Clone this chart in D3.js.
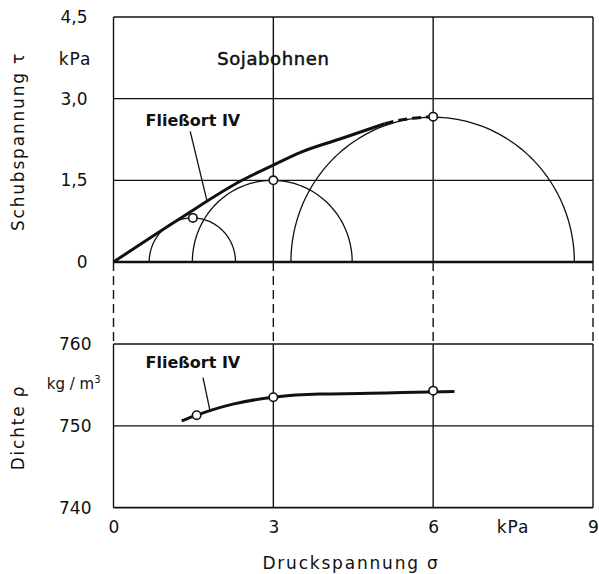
<!DOCTYPE html>
<html>
<head>
<meta charset="utf-8">
<script src="https://cdn.jsdelivr.net/npm/d3@7"></script>
<style>
  body { margin: 0; background: #fff; }
  svg text { font-family: "DejaVu Sans", sans-serif; fill: #111; }
</style>
</head>
<body>
<svg id="chart" width="599" height="574"></svg>
<script>
// Achsen / ticks
const sigmaTicks = [0, 3, 6, 9];
const tauTicks = [0, 1.5, 3.0, 4.5];
const rhoTicks = [740, 750, 760];

// Mohrsche Spannungskreise
const circleCenter = [1.48, 2.98, 5.99];
const circleRadius = [0.81, 1.5, 2.66];
const circlePtSigma = [1.49, 3.0, 6.0];
const circlePtTau = [0.81, 1.5, 2.67];

// Fließort IV (oben)
const locusSigma = [0, 1.25, 2.43, 3.0, 3.5, 4.25, 5.09];
const locusTau = [0, 0.80, 1.51, 1.78, 2.01, 2.26, 2.54];
const locusDashSigma = [5.09, 5.4, 6.0];
const locusDashTau = [2.54, 2.61, 2.67];

// Dichte (unten)
const densSigma = [1.28, 1.56, 2.24, 3.0, 3.87, 4.81, 5.43, 6.4];
const densRho = [750.6, 751.3, 752.65, 753.5, 753.9, 753.97, 754.08, 754.2];
const densPtSigma = [1.56, 3.0, 6.0];
const densPtRho = [751.3, 753.5, 754.3];

const svg = d3.select('#chart');

const x = d3.scaleLinear().domain([0, 9]).range([113.5, 593]);
const yTop = d3.scaleLinear().domain([0, 4.5]).range([262, 17]);
const yBot = d3.scaleLinear().domain([740, 760]).range([507.7, 344]);

const comma = d => d === 0 ? '0' : d3.format('.1f')(d).replace('.', ',');

// --- Gitter oben ---
const gTop = svg.append('g');
gTop.selectAll('line.h').data(tauTicks.filter(d => d > 0)).join('line')
    .attr('x1', x(0)).attr('x2', x(9))
    .attr('y1', d => yTop(d)).attr('y2', d => yTop(d))
    .attr('stroke', '#111').attr('stroke-width', 1.4);
gTop.selectAll('line.v').data(sigmaTicks).join('line')
    .attr('x1', d => x(d)).attr('x2', d => x(d))
    .attr('y1', yTop(4.5)).attr('y2', yTop(0))
    .attr('stroke', '#111').attr('stroke-width', 1.4);
gTop.append('line')
    .attr('x1', x(0)).attr('x2', x(9)).attr('y1', yTop(0)).attr('y2', yTop(0))
    .attr('stroke', '#111').attr('stroke-width', 2.4);

// --- Verbindung gestrichelt ---
svg.append('g').selectAll('line').data(sigmaTicks).join('line')
    .attr('x1', d => x(d)).attr('x2', d => x(d))
    .attr('y1', yTop(0)).attr('y2', yBot(760))
    .attr('stroke', '#111').attr('stroke-width', 1.4)
    .attr('stroke-dasharray', '9 5');

// --- Gitter unten ---
const gBot = svg.append('g');
gBot.selectAll('line.h').data(rhoTicks.filter(d => d > 740)).join('line')
    .attr('x1', x(0)).attr('x2', x(9))
    .attr('y1', d => yBot(d)).attr('y2', d => yBot(d))
    .attr('stroke', '#111').attr('stroke-width', 1.4);
gBot.selectAll('line.v').data(sigmaTicks).join('line')
    .attr('x1', d => x(d)).attr('x2', d => x(d))
    .attr('y1', yBot(760)).attr('y2', yBot(740))
    .attr('stroke', '#111').attr('stroke-width', 1.4);
gBot.append('line')
    .attr('x1', x(0)).attr('x2', x(9)).attr('y1', yBot(740)).attr('y2', yBot(740))
    .attr('stroke', '#111').attr('stroke-width', 1.8);

// --- Mohr-Kreise ---
const angles = d3.range(0, 181, 2).map(a => a * Math.PI / 180);
const circleLine = d3.line().x(p => x(p[0])).y(p => yTop(p[1]));
svg.append('g').selectAll('path').data(circleCenter).join('path')
    .attr('d', (c, i) => circleLine(angles.map(a => [c + circleRadius[i] * Math.cos(a), circleRadius[i] * Math.sin(a)])))
    .attr('fill', 'none').attr('stroke', '#111').attr('stroke-width', 1.3);

// --- Fließort ---
const locusLine = d3.line().x(d => x(d[0])).y(d => yTop(d[1])).curve(d3.curveMonotoneX);
svg.append('path')
    .attr('d', locusLine(locusSigma.map((s, i) => [s, locusTau[i]])))
    .attr('fill', 'none').attr('stroke', '#111').attr('stroke-width', 3);
svg.append('path')
    .attr('d', locusLine(locusDashSigma.map((s, i) => [s, locusDashTau[i]])))
    .attr('fill', 'none').attr('stroke', '#111').attr('stroke-width', 3)
    .attr('stroke-dasharray', '9 5');

svg.append('g').selectAll('circle').data(circlePtSigma).join('circle')
    .attr('cx', d => x(d)).attr('cy', (d, i) => yTop(circlePtTau[i])).attr('r', 4.2)
    .attr('fill', '#fff').attr('stroke', '#111').attr('stroke-width', 1.6);

// --- Dichte ---
const densLine = d3.line().x(d => x(d[0])).y(d => yBot(d[1])).curve(d3.curveMonotoneX);
svg.append('path')
    .attr('d', densLine(densSigma.map((s, i) => [s, densRho[i]])))
    .attr('fill', 'none').attr('stroke', '#111').attr('stroke-width', 3);
svg.append('g').selectAll('circle').data(densPtSigma).join('circle')
    .attr('cx', d => x(d)).attr('cy', (d, i) => yBot(densPtRho[i])).attr('r', 4.2)
    .attr('fill', '#fff').attr('stroke', '#111').attr('stroke-width', 1.6);

// --- Achsenbeschriftung ---
const axTop = svg.append('g').attr('transform', `translate(${x(0) - 26},0)`)
    .call(d3.axisLeft(yTop).tickValues(tauTicks).tickSize(0).tickPadding(0).tickFormat(comma));
const axBot = svg.append('g').attr('transform', `translate(${x(0) - 22},0)`)
    .call(d3.axisLeft(yBot).tickValues(rhoTicks).tickSize(0).tickPadding(0));
const axX = svg.append('g').attr('transform', `translate(0,${yBot(740) + 13})`)
    .call(d3.axisBottom(x).tickValues(sigmaTicks).tickSize(0).tickPadding(0));
[axTop, axBot, axX].forEach(a => {
    a.select('.domain').remove();
    a.selectAll('text').style('font-family', '"DejaVu Sans", sans-serif')
        .style('font-size', '17px').attr('fill', '#111');
});

// Einheiten
svg.append('text').attr('x', x(0) - 22).attr('y', yTop(3.73)).attr('dy', '0.35em')
    .attr('text-anchor', 'end').style('font-size', '17px').style('letter-spacing', '1px').text('kPa');
const kg = svg.append('text').attr('x', x(0) - 13).attr('y', yBot(755.2)).attr('dy', '0.35em')
    .attr('text-anchor', 'end').style('font-size', '15px');
kg.append('tspan').text('kg / m');
kg.append('tspan').attr('dy', '-0.6em').style('font-size', '10px').text('3');
svg.append('text').attr('x', x(7.5)).attr('y', yBot(740) + 13).attr('dy', '0.71em')
    .attr('text-anchor', 'middle').style('font-size', '17px').style('letter-spacing', '1px').text('kPa');

// Achsentitel
svg.append('text').attr('transform', `translate(24,${(yTop(4.5) + yTop(0)) / 2 + 2}) rotate(-90)`)
    .attr('text-anchor', 'middle').style('font-size', '17px').style('letter-spacing', '1.8px')
    .text('Schubspannung τ');
svg.append('text').attr('transform', `translate(24,${yBot(749.8)}) rotate(-90)`)
    .attr('text-anchor', 'middle').style('font-size', '17px').style('letter-spacing', '1.8px')
    .text('Dichte ρ');
svg.append('text').attr('x', 351).attr('y', 569)
    .attr('text-anchor', 'middle').style('font-size', '17px').style('letter-spacing', '1.8px')
    .text('Druckspannung σ');

// Titel / Beschriftungen
svg.append('text').attr('x', x(3)).attr('y', yTop(3.62))
    .attr('text-anchor', 'middle').style('font-size', '18px').style('letter-spacing', '0.6px')
    .attr('stroke', '#111').attr('stroke-width', 0.5).text('Sojabohnen');

svg.append('text').attr('x', x(1.49)).attr('y', yTop(2.49))
    .attr('text-anchor', 'middle').style('font-size', '16px').style('font-weight', 'bold').text('Fließort IV');
svg.append('line')
    .attr('x1', x(1.44)).attr('y1', yTop(2.40)).attr('x2', x(1.75)).attr('y2', yTop(1.14))
    .attr('stroke', '#111').attr('stroke-width', 1.3);

svg.append('text').attr('x', x(1.49)).attr('y', yBot(757.1))
    .attr('text-anchor', 'middle').style('font-size', '16px').style('font-weight', 'bold').text('Fließort IV');
svg.append('line')
    .attr('x1', x(1.68)).attr('y1', yBot(755.9)).attr('x2', x(1.81)).attr('y2', yBot(751.9))
    .attr('stroke', '#111').attr('stroke-width', 1.3);
</script>
</body>
</html>
